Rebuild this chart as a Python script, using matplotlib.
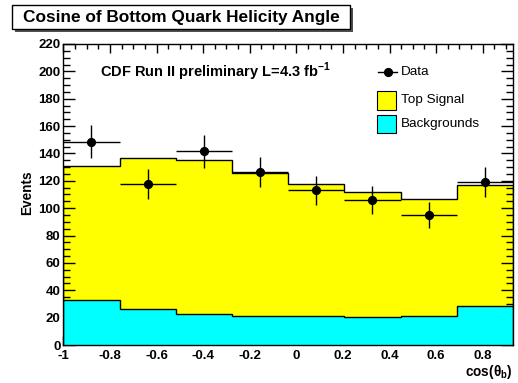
import numpy as np
import matplotlib
matplotlib.use("Agg")
import matplotlib.pyplot as plt
from matplotlib.patches import Rectangle
from matplotlib.lines import Line2D
from matplotlib.ticker import MultipleLocator

plt.rcParams['font.family'] = ['Liberation Sans', 'DejaVu Sans']
plt.rcParams['mathtext.fontset'] = 'custom'
plt.rcParams['mathtext.rm'] = 'Liberation Sans'
plt.rcParams['mathtext.bf'] = 'Liberation Sans:bold'

# ---- data ----
bin_edges = np.linspace(-1.0, 0.93, 9)
backgrounds = [32.7, 26.0, 22.7, 21.4, 21.2, 20.7, 21.4, 28.3]
top_signal = [98.3, 111.0, 112.8, 104.6, 96.8, 90.8, 85.6, 88.7]
data_counts = [148.5, 117.5, 141.5, 126.5, 113.0, 106.0, 95.0, 119.0]
xtick_labels = ['-1', '-0.8', '-0.6', '-0.4', '-0.2', '0', '0.2', '0.4', '0.6', '0.8']
ytick_labels = ['0', '20', '40', '60', '80', '100', '120', '140', '160', '180', '200', '220']

bg = np.array(backgrounds)
total = bg + np.array(top_signal)
dat = np.array(data_counts)
centers = 0.5 * (bin_edges[:-1] + bin_edges[1:])
halfw = 0.5 * np.diff(bin_edges)

W, H = 518, 383
fig = plt.figure(figsize=(W / 100, H / 100), dpi=100)
ax = fig.add_axes([63.3 / W, 1 - 345 / H, (513 - 63.3) / W, (345 - 44) / H])

ax.stairs(total, bin_edges, fill=True, facecolor='#ffff00', edgecolor='none', zorder=1)
ax.stairs(total, bin_edges, color='black', lw=1.0, zorder=2)
ax.stairs(bg, bin_edges, fill=True, facecolor='#00ffff', edgecolor='none', zorder=3)
ax.stairs(bg, bin_edges, color='black', lw=1.0, zorder=4)

ax.errorbar(centers, dat, xerr=halfw, yerr=np.sqrt(dat), fmt='o', color='black',
            ms=5.6, elinewidth=1.0, capsize=0, zorder=5)

ax.set_xlim(-1.0, 0.93)
ax.set_ylim(0, 220)
xt = np.arange(len(xtick_labels)) * 0.2 - 1.0
ax.set_xticks(xt)
ax.set_xticklabels(xtick_labels, fontweight='bold', fontsize=9.5)
yt = np.arange(len(ytick_labels)) * 20
ax.set_yticks(yt)
ax.set_yticklabels(ytick_labels, fontweight='bold', fontsize=9.5)
ax.xaxis.set_minor_locator(MultipleLocator(0.05))
ax.yaxis.set_minor_locator(MultipleLocator(5))
ax.tick_params(which='both', direction='in', top=True, right=True, width=1.0, color='black')
ax.tick_params(axis='x', which='major', length=6.5, pad=3.5)
ax.tick_params(axis='x', which='minor', length=3.6)
ax.tick_params(axis='y', which='major', length=8.6, pad=2)
ax.tick_params(axis='y', which='minor', length=4.7)
for s in ax.spines.values():
    s.set_linewidth(1.0)
    s.set_zorder(10)

# axis titles
fig.text(513 / W, 1 - 372 / H, 'cos(θ$_\\mathbf{b}$)', ha='right', va='center',
         fontsize=9.8, fontweight='bold')
fig.text(27 / W, 1 - 193 / H, 'Events', rotation=90, ha='center', va='center',
         fontsize=9.8, fontweight='bold')

# title box with shadow
bx0, bx1, by0, by1 = 12, 350, 5, 29
shadow = Rectangle(((bx0 + 3) / W, 1 - (by1 + 3) / H), (bx1 - bx0) / W, (by1 - by0) / H,
                   transform=fig.transFigure, facecolor='#505050', edgecolor='none', zorder=0)
box = Rectangle((bx0 / W, 1 - by1 / H), (bx1 - bx0) / W, (by1 - by0) / H,
                transform=fig.transFigure, facecolor='white', edgecolor='black', lw=1.0, zorder=1)
fig.patches.extend([shadow, box])
fig.text((bx0 + bx1) / 2 / W, 1 - 17.5 / H, 'Cosine of Bottom Quark Helicity Angle',
         ha='center', va='center', fontsize=12.4, fontweight='bold', zorder=2)

# annotation
fig.text(100 / W, 1 - 72 / H, 'CDF Run II preliminary L=4.3 fb$^\\mathbf{-1}$',
         ha='left', va='center', fontsize=10.5, fontweight='bold')

# legend
fig.lines.append(Line2D([378 / W, 397 / W], [1 - 72 / H, 1 - 72 / H], transform=fig.transFigure,
                        color='black', lw=1.0))
fig.lines.append(Line2D([387.5 / W], [1 - 72 / H], transform=fig.transFigure, marker='o',
                        color='black', ms=5.6))
fig.text(401 / W, 1 - 72 / H, 'Data', ha='left', va='center', fontsize=9.7)
fig.patches.append(Rectangle((377 / W, 1 - 110 / H), 19 / W, 19 / H, transform=fig.transFigure,
                             facecolor='#ffff00', edgecolor='black', lw=0.8))
fig.text(401 / W, 1 - 100 / H, 'Top Signal', ha='left', va='center', fontsize=9.7)
fig.patches.append(Rectangle((377 / W, 1 - 133 / H), 19 / W, 18 / H, transform=fig.transFigure,
                             facecolor='#00ffff', edgecolor='black', lw=0.8))
fig.text(401 / W, 1 - 124 / H, 'Backgrounds', ha='left', va='center', fontsize=9.7)

fig.savefig('out.png', dpi=100)
